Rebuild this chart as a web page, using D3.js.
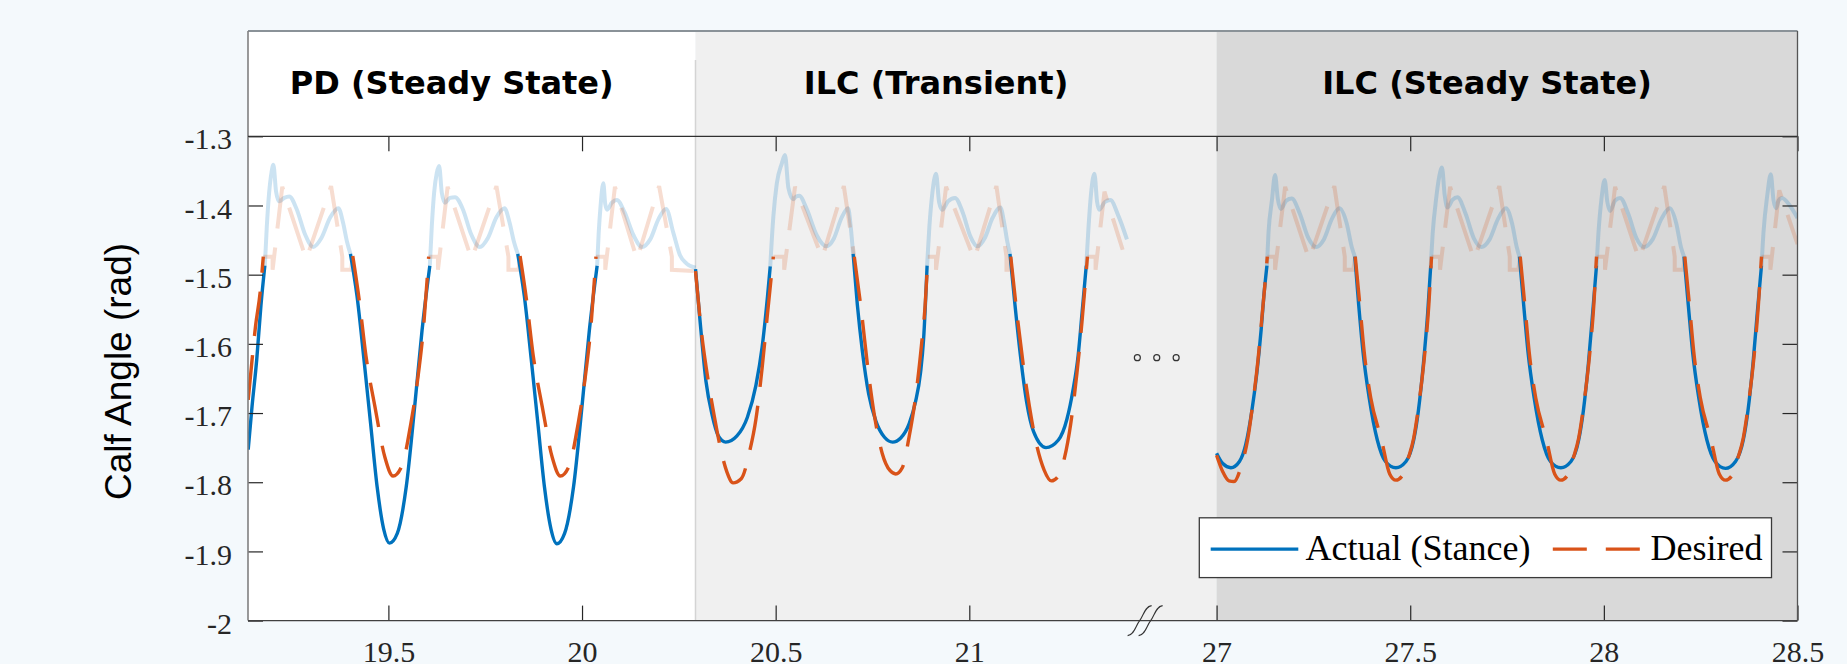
<!DOCTYPE html>
<html>
<head>
<meta charset="utf-8">
<script src="https://cdn.jsdelivr.net/npm/d3@7"></script>
<style>
  body { margin:0; background:#f4f9fc; overflow:hidden; }
  svg { display:block; }
  .tick line { stroke:#262626; stroke-width:1.2; }
</style>
</head>
<body>
<svg id="svg" width="1847" height="664"></svg>
<script>
// tick labels and phases
var xTicks = [19.5, 20, 20.5, 21, 27, 27.5, 28, 28.5];
var yTicks = [-2, -1.9, -1.8, -1.7, -1.6, -1.5, -1.4, -1.3];
var xDomain = [19.1375, 21.6385, 27, 28.5];   // broken time axis (s)
var phaseNames = ["PD (Steady State)", "ILC (Transient)", "ILC (Steady State)"];
var phaseStart = [19.1375, 20.293, 27];
var phaseEnd = [20.293, 21.6385, 28.5];

// stance phase, actual calf angle (rad)
var actualStance = [
  [[19.138,-1.753],[19.148,-1.690],[19.160,-1.623],[19.171,-1.544],[19.181,-1.487]],
  [[19.402,-1.470],[19.419,-1.531],[19.437,-1.623],[19.454,-1.715],[19.471,-1.807],[19.488,-1.868],[19.503,-1.888],[19.523,-1.874],[19.546,-1.807],[19.569,-1.684],[19.587,-1.580],[19.607,-1.487]],
  [[19.834,-1.470],[19.851,-1.531],[19.869,-1.623],[19.886,-1.715],[19.903,-1.807],[19.920,-1.868],[19.935,-1.889],[19.955,-1.874],[19.978,-1.807],[20.001,-1.684],[20.019,-1.580],[20.039,-1.487]],
  [[20.293,-1.492],[20.304,-1.562],[20.320,-1.654],[20.336,-1.703],[20.352,-1.733],[20.371,-1.742],[20.400,-1.733],[20.427,-1.706],[20.449,-1.660],[20.465,-1.605],[20.479,-1.531],[20.486,-1.488]],
  [[20.700,-1.470],[20.711,-1.544],[20.724,-1.611],[20.740,-1.672],[20.759,-1.712],[20.781,-1.735],[20.802,-1.742],[20.823,-1.736],[20.845,-1.715],[20.861,-1.684],[20.874,-1.642],[20.882,-1.593],[20.891,-1.487]],
  [[21.105,-1.470],[21.118,-1.544],[21.132,-1.617],[21.148,-1.684],[21.166,-1.727],[21.198,-1.750],[21.230,-1.739],[21.252,-1.709],[21.268,-1.666],[21.281,-1.617],[21.291,-1.556],[21.302,-1.487]],
  [[27.000,-1.758],[27.016,-1.773],[27.037,-1.779],[27.059,-1.770],[27.075,-1.746],[27.091,-1.697],[27.104,-1.642],[27.115,-1.580],[27.122,-1.531],[27.130,-1.487]],
  [[27.357,-1.474],[27.367,-1.544],[27.378,-1.611],[27.394,-1.678],[27.415,-1.739],[27.436,-1.770],[27.463,-1.779],[27.489,-1.770],[27.509,-1.739],[27.521,-1.697],[27.534,-1.629],[27.545,-1.556],[27.553,-1.487]],
  [[27.782,-1.474],[27.793,-1.544],[27.804,-1.611],[27.820,-1.678],[27.841,-1.739],[27.862,-1.770],[27.889,-1.779],[27.915,-1.770],[27.935,-1.739],[27.947,-1.697],[27.960,-1.629],[27.971,-1.556],[27.981,-1.487]],
  [[28.207,-1.474],[28.218,-1.544],[28.229,-1.611],[28.245,-1.678],[28.266,-1.739],[28.287,-1.770],[28.314,-1.780],[28.340,-1.770],[28.360,-1.739],[28.372,-1.697],[28.385,-1.629],[28.396,-1.556],[28.407,-1.487]]
];

// swing phase, actual (drawn faded)
var actualSwing = [
  [[19.181,-1.487],[19.186,-1.431],[19.192,-1.382],[19.198,-1.353],[19.203,-1.341],[19.210,-1.380],[19.218,-1.394],[19.231,-1.389],[19.244,-1.387],[19.263,-1.405],[19.285,-1.442],[19.306,-1.460],[19.327,-1.447],[19.350,-1.417],[19.371,-1.404],[19.383,-1.425],[19.393,-1.452],[19.402,-1.470]],
  [[19.607,-1.487],[19.612,-1.431],[19.618,-1.382],[19.625,-1.353],[19.631,-1.343],[19.638,-1.382],[19.646,-1.396],[19.659,-1.389],[19.672,-1.388],[19.692,-1.405],[19.714,-1.442],[19.736,-1.460],[19.757,-1.447],[19.779,-1.417],[19.800,-1.404],[19.813,-1.425],[19.824,-1.452],[19.834,-1.470]],
  [[20.039,-1.487],[20.043,-1.440],[20.048,-1.400],[20.055,-1.368],[20.060,-1.398],[20.065,-1.406],[20.077,-1.396],[20.090,-1.392],[20.110,-1.410],[20.133,-1.443],[20.155,-1.460],[20.176,-1.449],[20.198,-1.419],[20.217,-1.405],[20.236,-1.440],[20.253,-1.472],[20.270,-1.484],[20.293,-1.490]],
  [[20.486,-1.488],[20.494,-1.416],[20.503,-1.368],[20.516,-1.339],[20.524,-1.327],[20.533,-1.375],[20.545,-1.391],[20.553,-1.387],[20.561,-1.386],[20.580,-1.405],[20.606,-1.443],[20.631,-1.459],[20.650,-1.448],[20.670,-1.418],[20.687,-1.404],[20.694,-1.432],[20.700,-1.470]],
  [[20.891,-1.487],[20.897,-1.430],[20.904,-1.385],[20.914,-1.354],[20.922,-1.395],[20.930,-1.406],[20.945,-1.394],[20.963,-1.389],[20.983,-1.410],[21.003,-1.445],[21.021,-1.459],[21.040,-1.447],[21.060,-1.418],[21.080,-1.403],[21.090,-1.425],[21.098,-1.452],[21.105,-1.470]],
  [[21.302,-1.487],[21.308,-1.430],[21.314,-1.385],[21.323,-1.354],[21.330,-1.395],[21.335,-1.406],[21.350,-1.395],[21.364,-1.392],[21.385,-1.415],[21.407,-1.449]],
  [[27.130,-1.487],[27.134,-1.440],[27.143,-1.392],[27.151,-1.356],[27.158,-1.390],[27.166,-1.405],[27.180,-1.393],[27.194,-1.390],[27.215,-1.412],[27.237,-1.447],[27.257,-1.460],[27.277,-1.449],[27.298,-1.419],[27.317,-1.404],[27.336,-1.426],[27.349,-1.460],[27.357,-1.474]],
  [[27.553,-1.487],[27.558,-1.440],[27.567,-1.390],[27.575,-1.358],[27.582,-1.345],[27.589,-1.385],[27.596,-1.403],[27.609,-1.392],[27.622,-1.388],[27.643,-1.412],[27.664,-1.447],[27.684,-1.460],[27.705,-1.449],[27.727,-1.419],[27.747,-1.404],[27.763,-1.426],[27.775,-1.460],[27.782,-1.474]],
  [[27.981,-1.487],[27.986,-1.440],[27.994,-1.390],[28.002,-1.363],[28.009,-1.395],[28.016,-1.408],[28.029,-1.393],[28.042,-1.389],[28.063,-1.412],[28.084,-1.447],[28.104,-1.460],[28.126,-1.449],[28.149,-1.419],[28.170,-1.404],[28.187,-1.426],[28.199,-1.460],[28.207,-1.474]],
  [[28.407,-1.487],[28.412,-1.440],[28.422,-1.385],[28.431,-1.355],[28.438,-1.392],[28.445,-1.404],[28.451,-1.393],[28.460,-1.389],[28.480,-1.400],[28.500,-1.418]]
];

// desired trajectory, stance
var desiredStance = [
  [[19.138,-1.681],[19.148,-1.623],[19.157,-1.574],[19.169,-1.525],[19.177,-1.474]],
  [[19.408,-1.473],[19.425,-1.538],[19.442,-1.617],[19.465,-1.690],[19.491,-1.764],[19.512,-1.791],[19.535,-1.776],[19.558,-1.715],[19.575,-1.654],[19.592,-1.568],[19.604,-1.474]],
  [[19.840,-1.473],[19.857,-1.538],[19.874,-1.617],[19.897,-1.690],[19.923,-1.764],[19.944,-1.791],[19.967,-1.776],[19.990,-1.715],[20.007,-1.654],[20.024,-1.568],[20.036,-1.474]],
  [[20.293,-1.495],[20.309,-1.586],[20.326,-1.654],[20.342,-1.706],[20.358,-1.752],[20.374,-1.785],[20.390,-1.801],[20.411,-1.795],[20.433,-1.755],[20.449,-1.709],[20.465,-1.635],[20.479,-1.556],[20.494,-1.474]],
  [[20.703,-1.474],[20.722,-1.556],[20.738,-1.635],[20.754,-1.700],[20.775,-1.758],[20.795,-1.783],[20.810,-1.788],[20.827,-1.779],[20.845,-1.733],[20.861,-1.678],[20.877,-1.599],[20.886,-1.544],[20.893,-1.474]],
  [[21.107,-1.474],[21.123,-1.556],[21.139,-1.629],[21.155,-1.690],[21.171,-1.739],[21.193,-1.782],[21.212,-1.798],[21.230,-1.791],[21.246,-1.764],[21.262,-1.715],[21.278,-1.642],[21.291,-1.568],[21.305,-1.474]],
  [[27.000,-1.761],[27.016,-1.785],[27.032,-1.798],[27.045,-1.799],[27.064,-1.776],[27.080,-1.739],[27.094,-1.684],[27.107,-1.623],[27.117,-1.562],[27.126,-1.507],[27.131,-1.474]],
  [[27.358,-1.474],[27.370,-1.544],[27.381,-1.611],[27.398,-1.678],[27.426,-1.739],[27.447,-1.788],[27.463,-1.797],[27.479,-1.791],[27.495,-1.765],[27.509,-1.736],[27.523,-1.684],[27.537,-1.617],[27.548,-1.544],[27.555,-1.474]],
  [[27.784,-1.474],[27.796,-1.544],[27.807,-1.611],[27.824,-1.678],[27.852,-1.739],[27.873,-1.788],[27.889,-1.797],[27.905,-1.791],[27.921,-1.765],[27.935,-1.736],[27.949,-1.684],[27.963,-1.617],[27.974,-1.544],[27.981,-1.474]],
  [[28.209,-1.474],[28.221,-1.544],[28.232,-1.611],[28.249,-1.678],[28.277,-1.739],[28.298,-1.788],[28.314,-1.797],[28.330,-1.791],[28.346,-1.765],[28.360,-1.736],[28.374,-1.684],[28.388,-1.617],[28.399,-1.544],[28.407,-1.474]]
];

// desired trajectory, swing (drawn faded)
var desiredSwing = [
  [[19.177,-1.474],[19.201,-1.474],[19.201,-1.493],[19.226,-1.373],[19.288,-1.478],[19.352,-1.372],[19.381,-1.474],[19.381,-1.493],[19.404,-1.493],[19.408,-1.473]],
  [[19.604,-1.474],[19.628,-1.474],[19.628,-1.493],[19.653,-1.373],[19.715,-1.478],[19.779,-1.372],[19.810,-1.474],[19.810,-1.493],[19.836,-1.493],[19.840,-1.473]],
  [[20.036,-1.474],[20.060,-1.474],[20.060,-1.493],[20.085,-1.373],[20.142,-1.478],[20.199,-1.372],[20.232,-1.474],[20.232,-1.493],[20.293,-1.495]],
  [[20.494,-1.474],[20.522,-1.474],[20.522,-1.493],[20.550,-1.373],[20.620,-1.476],[20.676,-1.372],[20.703,-1.474]],
  [[20.893,-1.474],[20.914,-1.474],[20.914,-1.493],[20.940,-1.373],[21.013,-1.478],[21.070,-1.372],[21.096,-1.474],[21.096,-1.493],[21.104,-1.493],[21.107,-1.474]],
  [[21.305,-1.474],[21.326,-1.474],[21.326,-1.493],[21.349,-1.380],[21.396,-1.464]],
  [[27.131,-1.474],[27.151,-1.474],[27.151,-1.493],[27.177,-1.373],[27.239,-1.478],[27.304,-1.372],[27.331,-1.474],[27.331,-1.493],[27.353,-1.493],[27.358,-1.474]],
  [[27.555,-1.474],[27.577,-1.474],[27.577,-1.493],[27.603,-1.373],[27.665,-1.478],[27.730,-1.372],[27.757,-1.474],[27.757,-1.493],[27.779,-1.493],[27.784,-1.474]],
  [[27.981,-1.474],[28.003,-1.474],[28.003,-1.493],[28.029,-1.373],[28.091,-1.478],[28.156,-1.372],[28.183,-1.474],[28.183,-1.493],[28.205,-1.493],[28.209,-1.474]],
  [[28.407,-1.474],[28.430,-1.474],[28.430,-1.493],[28.453,-1.378],[28.500,-1.456]]
];

var svg = d3.select("#svg");
var box = {left:248, right:1797.5, top:136.3, bottom:620.6, head:30.9};
var bandColors = ["#ffffff", "#f0f0f0", "#d9d9d9"];
var blue = "#0072BD", red = "#D95319";
var serif = "'Liberation Serif', 'Times New Roman', serif";

// two pieces of time share one pixel scale, jump at the break
var span = (xDomain[1]-xDomain[0]) + (xDomain[3]-xDomain[2]);
var xBreak = box.left + (xDomain[1]-xDomain[0]) / span * (box.right-box.left);
var xScale = d3.scaleLinear()
    .domain(xDomain)
    .range([box.left, xBreak, xBreak, box.right]);
var yScale = d3.scaleLinear()
    .domain([-2, -1.3])
    .range([box.bottom, box.top]);

// phase bands (full height incl. title strip)
svg.selectAll("rect.band")
    .data(phaseNames)
    .enter().append("rect")
    .attr("class", "band")
    .attr("x", function(d,i) { return xScale(phaseStart[i]); })
    .attr("y", box.head)
    .attr("width", function(d,i) { return xScale(phaseEnd[i]) - xScale(phaseStart[i]); })
    .attr("height", box.bottom-box.head)
    .attr("fill", function(d,i) { return bandColors[i]; });

svg.append("line")
    .attr("x1", xScale(phaseStart[1])).attr("x2", xScale(phaseStart[1]))
    .attr("y1", 60).attr("y2", box.bottom)
    .attr("stroke", "#d4d4d4").attr("stroke-width", 1.5);

svg.selectAll("text.phase")
    .data(phaseNames)
    .enter().append("text")
    .attr("class", "phase")
    .attr("x", function(d,i) { return (xScale(phaseStart[i]) + xScale(phaseEnd[i]))/2 - 20; })
    .attr("y", 94)
    .attr("text-anchor", "middle")
    .style("font-family", "'DejaVu Sans', Verdana, sans-serif")
    .style("font-weight", "bold")
    .style("font-size", "32px")
    .attr("fill", "#000")
    .text(function(d) { return d; });

// clip for the data lines
svg.append("clipPath").attr("id", "plotClip")
    .append("rect")
    .attr("x", box.left).attr("y", box.top)
    .attr("width", box.right-box.left).attr("height", box.bottom-box.top);

var lineSmooth = d3.line()
    .x(function(d) { return xScale(d[0]); })
    .y(function(d) { return yScale(d[1]); })
    .curve(d3.curveMonotoneX);
var lineStraight = d3.line()
    .x(function(d) { return xScale(d[0]); })
    .y(function(d) { return yScale(d[1]); });

var lines = svg.append("g").attr("clip-path", "url(#plotClip)");

lines.selectAll("path.aSwing")
    .data(actualSwing)
    .enter().append("path")
    .attr("class", "aSwing")
    .attr("d", lineSmooth)
    .attr("fill", "none")
    .attr("stroke", blue).attr("stroke-opacity", 0.2)
    .attr("stroke-width", 4)
    .attr("stroke-linejoin", "round");

lines.selectAll("path.dSwing")
    .data(desiredSwing)
    .enter().append("path")
    .attr("class", "dSwing")
    .attr("d", lineStraight)
    .attr("fill", "none")
    .attr("stroke", red).attr("stroke-opacity", 0.2)
    .attr("stroke-width", 4)
    .attr("stroke-dasharray", "45,19");

lines.selectAll("path.aStance")
    .data(actualStance)
    .enter().append("path")
    .attr("class", "aStance")
    .attr("d", lineSmooth)
    .attr("fill", "none")
    .attr("stroke", blue)
    .attr("stroke-width", 3.4);

lines.selectAll("path.dStance")
    .data(desiredStance)
    .enter().append("path")
    .attr("class", "dStance")
    .attr("d", lineSmooth)
    .attr("fill", "none")
    .attr("stroke", red)
    .attr("stroke-width", 3.4)
    .attr("stroke-dasharray", "45,19");

// axes, ticks pointing inward
var numFmt = function(d) { return String(d); };

var yAxis = svg.append("g")
    .attr("transform", "translate(" + box.left + ",0)")
    .call(d3.axisLeft(yScale).tickValues(yTicks).tickSize(-15).tickPadding(16).tickFormat(numFmt))
    .call(function(g) { g.select(".domain").remove(); });
yAxis.selectAll("text")
    .attr("dy", "0.42em")
    .style("font-family", serif).style("font-size", "30px").attr("fill", "#262626");

svg.append("g")
    .attr("transform", "translate(" + box.right + ",0)")
    .call(d3.axisRight(yScale).tickValues(yTicks).tickSize(-15).tickFormat(""))
    .call(function(g) { g.select(".domain").remove(); });

var xAxis = svg.append("g")
    .attr("transform", "translate(0," + box.bottom + ")")
    .call(d3.axisBottom(xScale).tickValues(xTicks).tickSize(-15).tickPadding(20).tickFormat(numFmt))
    .call(function(g) { g.select(".domain").remove(); });
xAxis.selectAll("text")
    .style("font-family", serif).style("font-size", "30px").attr("fill", "#262626");

svg.append("g")
    .attr("transform", "translate(0," + box.top + ")")
    .call(d3.axisTop(xScale).tickValues(xTicks).tickSize(-15).tickFormat(""))
    .call(function(g) { g.select(".domain").remove(); });

// frame
var frame = svg.append("g").attr("fill", "none");
frame.append("line").attr("x1", box.left).attr("x2", box.right).attr("y1", box.head).attr("y2", box.head)
    .attr("stroke", "#8a9298").attr("stroke-width", 2);
frame.append("line").attr("x1", box.left).attr("x2", box.left).attr("y1", box.head).attr("y2", box.bottom)
    .attr("stroke", "#808080").attr("stroke-width", 1.6);
frame.append("line").attr("x1", box.right).attr("x2", box.right).attr("y1", box.head).attr("y2", box.bottom)
    .attr("stroke", "#555").attr("stroke-width", 1.3);
frame.append("line").attr("x1", box.left).attr("x2", box.right).attr("y1", box.top).attr("y2", box.top)
    .attr("stroke", "#303030").attr("stroke-width", 1.3);
frame.append("line").attr("x1", box.left).attr("x2", box.right).attr("y1", box.bottom).attr("y2", box.bottom)
    .attr("stroke", "#404040").attr("stroke-width", 1.3);

// axis break marks
var bx = xScale(21.454), by = box.bottom;
[-5.5, 5.5].forEach(function(off) {
    var cx = bx + off;
    frame.append("path")
        .attr("d", "M" + (cx-12) + "," + (by+15) +
                   " C" + (cx-5) + "," + (by+14) + " " + (cx-4) + "," + (by+5) + " " + cx + "," + by +
                   " S" + (cx+5) + "," + (by-14) + " " + (cx+12) + "," + (by-15))
        .attr("stroke", "#333").attr("stroke-width", 1.1);
});

// ellipsis between the two time windows
[-19.4, 0, 19.4].forEach(function(off) {
    frame.append("circle")
        .attr("cx", xScale(21.484) + off)
        .attr("cy", yScale(-1.62))
        .attr("r", 3)
        .attr("stroke", "#333").attr("stroke-width", 1.2);
});

// y label
svg.append("text")
    .attr("transform", "translate(131," + ((box.top+box.bottom)/2 - 7) + ") rotate(-90)")
    .attr("text-anchor", "middle")
    .style("font-family", "'Liberation Sans', Arial, sans-serif")
    .style("font-size", "37px")
    .attr("fill", "#000")
    .text("Calf Angle (rad)");

// legend
var lg = svg.append("g").attr("transform", "translate(" + (box.right-26-572.2) + "," + (box.bottom-43-59.8) + ")");
lg.append("rect")
    .attr("width", 572.2).attr("height", 59.8)
    .attr("fill", "#fff").attr("stroke", "#3a3a3a").attr("stroke-width", 1.3);
lg.append("line").attr("x1", 11.4).attr("x2", 99).attr("y1", 31.3).attr("y2", 31.3)
    .attr("stroke", blue).attr("stroke-width", 3.4);
lg.append("text").attr("x", 106.2).attr("y", 42)
    .style("font-family", serif).style("font-size", "36px")
    .text("Actual (Stance)");
lg.append("line").attr("x1", 353.5).attr("x2", 440.5).attr("y1", 31.3).attr("y2", 31.3)
    .attr("stroke", red).attr("stroke-width", 3.4).attr("stroke-dasharray", "34,19");
lg.append("text").attr("x", 451.3).attr("y", 42)
    .style("font-family", serif).style("font-size", "36px")
    .text("Desired");
</script>
</body>
</html>
